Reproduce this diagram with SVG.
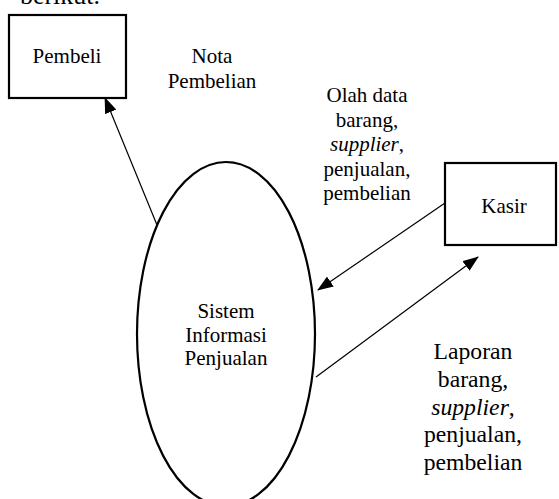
<svg xmlns="http://www.w3.org/2000/svg" width="559" height="499" viewBox="0 0 559 499">
<style>
text{fill:#000;text-anchor:middle}
.t21{font-size:21px}
.t24{font-size:23.7px}
.box{fill:#fff;stroke:#000;stroke-width:2.2}
.flow{stroke:#000;stroke-width:1.2;fill:none}
</style>
<defs>
<marker id="ah" markerUnits="userSpaceOnUse" markerWidth="16" markerHeight="12" refX="15" refY="6" orient="auto">
<path d="M0,0 L16,6 L0,12 Z" fill="#000"/>
</marker>
</defs>
<rect width="559" height="499" fill="#fff"/>
<g font-family="'Liberation Serif', 'Times New Roman', 'DejaVu Serif', serif">
<text x="60" y="4" font-size="26">berikut.</text>
<g id="connectors">
<line class="flow" x1="157" y1="225" x2="105" y2="98" marker-end="url(#ah)"/>
<line class="flow" x1="445" y1="203" x2="318" y2="290" marker-end="url(#ah)"/>
<line class="flow" x1="316" y1="377" x2="478" y2="257" marker-end="url(#ah)"/>
</g>
<g id="pembeli">
<rect class="box" x="9" y="15" width="117" height="83"/>
<text class="t21" x="67" y="63">Pembeli</text>
</g>
<g id="kasir">
<rect class="box" x="445" y="163" width="111" height="82"/>
<text class="t21" x="504" y="213">Kasir</text>
</g>
<g id="sistem">
<ellipse cx="226" cy="334" rx="89" ry="172" fill="none" stroke="#000" stroke-width="2.2"/>
<text class="t21" x="226" y="318">Sistem</text>
<text class="t21" x="226" y="342">Informasi</text>
<text class="t21" x="226" y="365">Penjualan</text>
</g>
<g id="label-nota">
<text class="t21" x="212" y="63">Nota</text>
<text class="t21" x="212" y="88">Pembelian</text>
</g>
<g id="label-olah">
<text class="t21" x="367" y="102">Olah data</text>
<text class="t21" x="367" y="127">barang,</text>
<text class="t21" x="367" y="151"><tspan font-style="italic">supplier</tspan>,</text>
<text class="t21" x="367" y="176">penjualan,</text>
<text class="t21" x="367" y="200">pembelian</text>
</g>
<g id="label-laporan">
<text class="t24" x="473" y="359">Laporan</text>
<text class="t24" x="473" y="387">barang,</text>
<text class="t24" x="473" y="415"><tspan font-style="italic">supplier</tspan>,</text>
<text class="t24" x="473" y="442">penjualan,</text>
<text class="t24" x="473" y="470">pembelian</text>
</g>
</g>
</svg>
